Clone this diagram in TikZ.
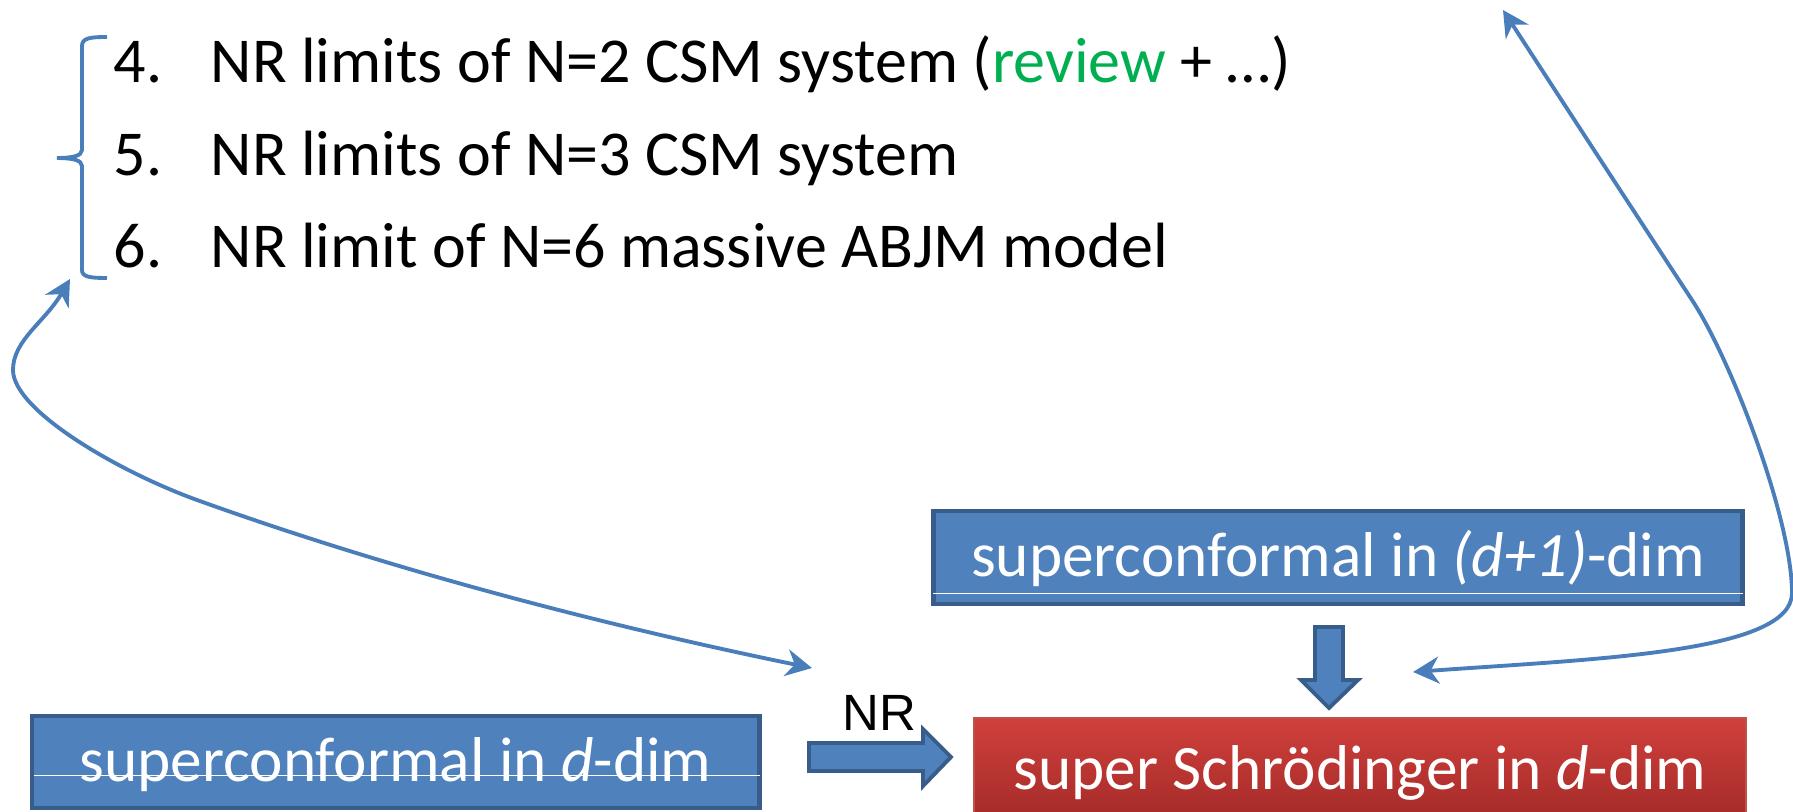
\documentclass[tikz,border=0pt]{standalone}
\usepackage{fontspec}
\setmainfont{Carlito}
\newfontfamily\arialfont{Liberation Sans}
\usetikzlibrary{arrows.meta, positioning, calc}
\definecolor{boxblue}{RGB}{79,129,189}
\definecolor{boxedge}{RGB}{56,93,138}
\definecolor{linkblue}{RGB}{74,126,187}
\definecolor{reviewgreen}{RGB}{0,176,80}
\definecolor{schrtop}{RGB}{208,64,60}
\definecolor{schrbot}{RGB}{163,42,40}
\definecolor{schredge}{RGB}{192,80,77}

\begin{document}
\begin{tikzpicture}[
    x=0.01cm, y=-0.01cm,
    item/.style={anchor=base west, inner sep=0pt, font=\fontsize{18.2}{22}\selectfont},
    slab/.style={draw=boxedge, line width=1.3pt, fill=boxblue, text=white, inner sep=0pt,
        font=\fontsize{18}{22}\selectfont, text height=14pt, text depth=3pt},
    redslab/.style={slab, draw=schredge, line width=0.6pt, top color=schrtop, bottom color=schrbot},
    gloss/.style={draw=white, line width=0.45pt},
    fatarrow/.style={draw=boxedge, line width=1.1pt, fill=boxblue, line join=miter},
    link/.style={{Stealth[length=2.6mm, width=2.7mm]}-{Stealth[length=2.6mm, width=2.7mm]}, draw=linkblue, line width=1.1pt},
    brace/.style={draw=linkblue, line width=1.1pt}
]
\useasboundingbox (0,0) rectangle (1793,812);

% List of limits
\node[item] (item4) at (113,83) {\makebox[0.97cm][l]{4.}NR limits of N=2 CSM system (\textcolor{reviewgreen}{review} + …)};
\node[item] (item5) at (113,175) {\makebox[0.97cm][l]{5.}NR limits of N=3 CSM system};
\node[item] (item6) at (113,267) {\makebox[0.97cm][l]{6.}NR limit of N=6 massive ABJM model};

% Brace
\draw[brace] (107,37) .. controls (90,37) and (82,38) .. (82,46) -- (82,150)
    .. controls (82,156) and (72,158) .. (57,158)
    .. controls (72,158) and (82,160) .. (82,166) -- (82,270)
    .. controls (82,277) and (90,278) .. (107,278);

% Boxes
\node[slab, minimum width=8.08cm, minimum height=0.93cm] (supA) at (1338,557.5) {superconformal in \textit{(d+1)}-dim};
\node[slab, minimum width=7.27cm, minimum height=0.92cm] (supB) at (395.5,762) {superconformal in \textit{d}-dim};
\node[redslab, minimum width=7.72cm, minimum height=1.04cm] (schr) at (1360,770) {super Schrödinger in \textit{d}-dim};

\draw[gloss] ($(supA.south west)+(2,-13)$) -- ($(supA.south east)+(-2,-13)$);
\draw[gloss] ($(supB.south west)+(4,-35)$) -- ($(supB.south east)+(-2,-35)$);

% Block arrows
\coordinate (dntop) at (1329,627);
\coordinate (dntip) at (1329,708);
\coordinate (nrfrom) at (809,757);
\coordinate (nrto) at (951,757);
\draw[fatarrow] (dntop) ++(-14,0) -- ++(28,0) -- ++(0,53) -- ++(15,0) -- (dntip) -- ++(-28,-28) -- ++(14,0) -- cycle;
\draw[fatarrow] (nrfrom) ++(0,-14) -- ++(114,0) -- ++(0,-14) -- (nrto) -- ++(-28,29) -- ++(0,-15) -- ++(-114,0) -- cycle;
\node[anchor=base west, inner sep=0pt, font=\arialfont\fontsize{14.5}{17}\selectfont] (nrlabel) at (842,730) {NR};

% Curved links
\coordinate (lhook) at (70,279);
\coordinate (nrspot) at (812,668);
\coordinate (schrspot) at (1413,672);
\coordinate (topspot) at (1503,10);
\draw[link] (lhook) .. controls (45,322) and (13,340) .. (13,370)
    .. controls (13,410) and (117,471) .. (197,500)
    .. controls (397,572) and (612,627) .. (nrspot);
\draw[link] (schrspot) .. controls (1593,659) and (1792,653) .. (1792,593)
    .. controls (1792,520) and (1732,361) .. (1692,300)
    .. controls (1650,236) and (1560,98) .. (topspot);

\end{tikzpicture}
\end{document}
